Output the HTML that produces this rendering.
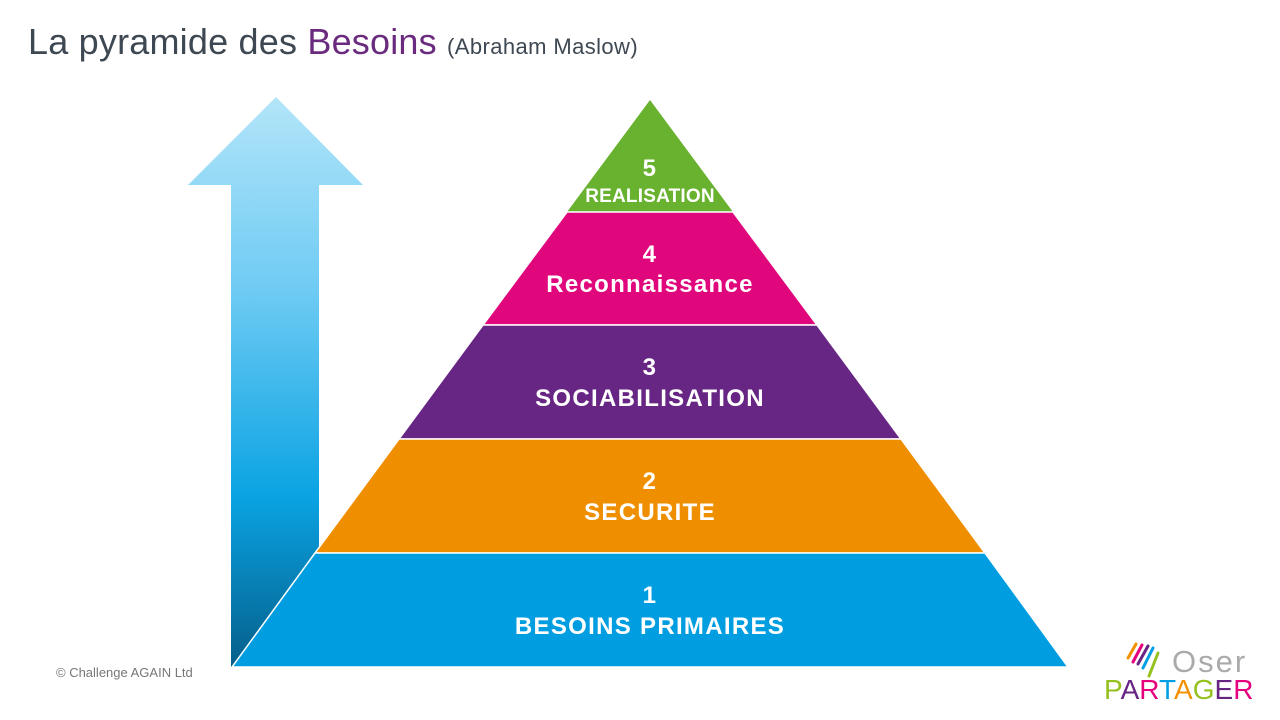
<!DOCTYPE html>
<html><head><meta charset="utf-8"><style>
body{margin:0;width:1280px;height:720px;background:#fff;overflow:hidden;position:relative;font-family:"Liberation Sans",sans-serif}
.t{position:absolute;left:28px;top:21px;font-size:36px;color:#3e4852;white-space:nowrap;letter-spacing:0.2px}
.t small{font-size:22px;letter-spacing:0.4px}
svg{position:absolute;left:0;top:0}
</style></head><body>
<svg width="1280" height="720">
<defs><linearGradient id="g" x1="0" y1="0" x2="0" y2="1">
<stop offset="0" stop-color="#b3e5f9"/><stop offset="0.35" stop-color="#6ccaf3"/><stop offset="0.7" stop-color="#0aa3e3"/><stop offset="1" stop-color="#055f8a"/></linearGradient></defs>
<polygon points="276,97 363,185 319,185 319,667 231,667 231,185 188,185" fill="url(#g)"/>
<polygon points="650,100 733,212 567,212" fill="#68b22f"/>
<polygon points="567,212 733,212 817,325 483,325" fill="#e0077d" stroke="#fff" stroke-width="1.5"/>
<polygon points="483,325 817,325 901,439 399,439" fill="#672683" stroke="#fff" stroke-width="1.5"/>
<polygon points="399,439 901,439 985,553 315,553" fill="#ef8f00" stroke="#fff" stroke-width="1.5"/>
<polygon points="315,553 985,553 1068,667 232,667" fill="#009ee0" stroke="#fff" stroke-width="1.5"/>
<g fill="#fff" font-family="Liberation Sans,sans-serif" font-weight="bold" text-anchor="middle" letter-spacing="1.3">
<text x="650" y="176" font-size="24">5</text><text x="650" y="202" font-size="19" letter-spacing="0.2">REALISATION</text>
<text x="650" y="262" font-size="24">4</text><text x="650" y="292" font-size="24">Reconnaissance</text>
<text x="650" y="375" font-size="24">3</text><text x="650" y="406" font-size="24">SOCIABILISATION</text>
<text x="650" y="489" font-size="24">2</text><text x="650" y="520" font-size="24">SECURITE</text>
<text x="650" y="603" font-size="24">1</text><text x="650" y="634" font-size="24">BESOINS PRIMAIRES</text>
</g>
<text x="56" y="677" font-size="13" fill="#777" font-family="Liberation Sans,sans-serif">© Challenge AGAIN Ltd</text>
<g stroke-width="3" stroke-linecap="round">
<line x1="1128" y1="658" x2="1136" y2="644" stroke="#f29100"/>
<line x1="1133" y1="662" x2="1142" y2="645" stroke="#e6007e"/>
<line x1="1138" y1="664" x2="1148" y2="646" stroke="#662483"/>
<line x1="1143" y1="668" x2="1153" y2="648" stroke="#009fe3"/>
<line x1="1149" y1="676" x2="1158" y2="653" stroke="#95c11f"/>
</g>
<text x="1172" y="672" font-size="31" fill="#aaa" font-family="Liberation Sans,sans-serif" letter-spacing="2">Oser</text>
<text x="1104" y="699" font-size="28" font-family="Liberation Sans,sans-serif"><tspan fill="#95c11f">P</tspan><tspan fill="#662483">A</tspan><tspan fill="#e6007e">R</tspan><tspan fill="#009fe3">T</tspan><tspan fill="#f29100">A</tspan><tspan fill="#95c11f">G</tspan><tspan fill="#662483">E</tspan><tspan fill="#e6007e">R</tspan></text>
</svg>
<div class="t">La pyramide des <span style="color:#6a2a7e">Besoins</span> <small>(Abraham Maslow)</small></div>
</body></html>
